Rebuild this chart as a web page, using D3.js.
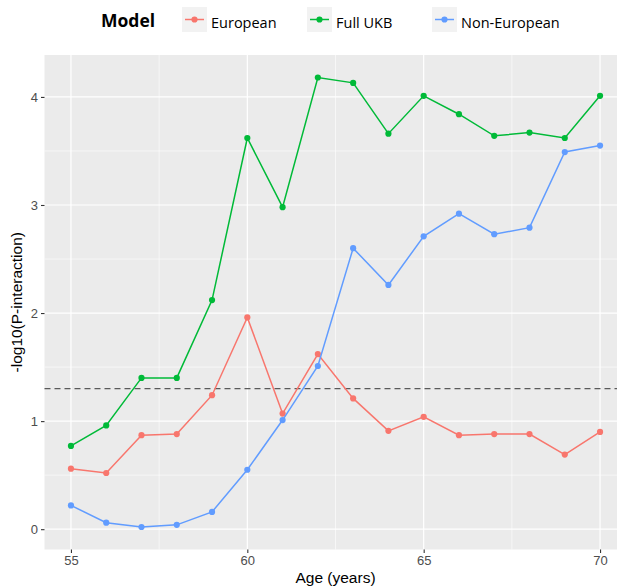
<!DOCTYPE html>
<html>
<head>
<meta charset="utf-8">
<script src="https://cdn.jsdelivr.net/npm/d3@7"></script>
<style>
  html, body { margin: 0; padding: 0; background: #ffffff; }
  svg { display: block; }
</style>
</head>
<body>
<script>
// ---- data ----
const ages = [55, 56, 57, 58, 59, 60, 61, 62, 63, 64, 65, 66, 67, 68, 69, 70];
const european =    [0.56, 0.52, 0.87, 0.88, 1.24, 1.96, 1.07, 1.62, 1.21, 0.91, 1.04, 0.87, 0.88, 0.88, 0.69, 0.90];
const fullUKB =     [0.77, 0.96, 1.40, 1.40, 2.12, 3.62, 2.98, 4.18, 4.13, 3.66, 4.01, 3.84, 3.64, 3.67, 3.62, 4.01];
const nonEuropean = [0.22, 0.06, 0.02, 0.04, 0.16, 0.55, 1.01, 1.51, 2.60, 2.26, 2.71, 2.92, 2.73, 2.79, 3.49, 3.55];
const seriesNames = ["European", "Full UKB", "Non-European"];
const seriesColors = ["#F8766D", "#00BA38", "#619CFF"];
const xTicks = [55, 60, 65, 70];
const xMinor = [57.5, 62.5, 67.5];
const yTicks = [0, 1, 2, 3, 4];
const yMinor = [0.5, 1.5, 2.5, 3.5];
const threshold = 1.30;
const legendTitle = "Model";
const xTitle = "Age (years)";
const yTitle = "-log10(P-interaction)";

const seriesValues = [european, fullUKB, nonEuropean];
const series = seriesNames.map((name, i) => ({
  name, color: seriesColors[i],
  points: ages.map((a, j) => ({ x: a, y: seriesValues[i][j] }))
}));

// ---- layout ----
const W = 617, H = 586;
const svg = d3.select("body").append("svg").attr("width", W).attr("height", H);

const panel = { left: 44.5, right: 626.5, top: 55, bottom: 549.5 };

const allY = seriesValues.flat();
const yMin = d3.min(allY), yMax = d3.max(allY);
const yPad = (yMax - yMin) * 0.05;
const xPad = (d3.max(ages) - d3.min(ages)) * 0.05;

const x = d3.scaleLinear().domain([d3.min(ages) - xPad, d3.max(ages) + xPad]).range([panel.left, panel.right]);
const y = d3.scaleLinear().domain([yMin - yPad, yMax + yPad]).range([panel.bottom, panel.top]);

// panel background
svg.append("rect")
  .attr("x", panel.left).attr("y", panel.top)
  .attr("width", panel.right - panel.left).attr("height", panel.bottom - panel.top)
  .attr("fill", "#EBEBEB");

const grid = svg.append("g");
// minor grid
grid.selectAll("line.ymin").data(yMinor).join("line")
  .attr("x1", panel.left).attr("x2", panel.right)
  .attr("y1", d => y(d)).attr("y2", d => y(d))
  .attr("stroke", "#ffffff").attr("stroke-width", 0.6);
grid.selectAll("line.xmin").data(xMinor).join("line")
  .attr("y1", panel.top).attr("y2", panel.bottom)
  .attr("x1", d => x(d)).attr("x2", d => x(d))
  .attr("stroke", "#ffffff").attr("stroke-width", 0.6);
// major grid
grid.selectAll("line.ymaj").data(yTicks).join("line")
  .attr("x1", panel.left).attr("x2", panel.right)
  .attr("y1", d => y(d)).attr("y2", d => y(d))
  .attr("stroke", "#ffffff").attr("stroke-width", 1.2);
grid.selectAll("line.xmaj").data(xTicks).join("line")
  .attr("y1", panel.top).attr("y2", panel.bottom)
  .attr("x1", d => x(d)).attr("x2", d => x(d))
  .attr("stroke", "#ffffff").attr("stroke-width", 1.2);

// threshold line
svg.append("line")
  .attr("x1", panel.left).attr("x2", panel.right)
  .attr("y1", y(threshold)).attr("y2", y(threshold))
  .attr("stroke", "#5a5a5a").attr("stroke-width", 1.2)
  .attr("stroke-dasharray", "6,4");

// series
const line = d3.line().x(d => x(d.x)).y(d => y(d.y));
const sg = svg.append("g").selectAll("g").data(series).join("g");
sg.append("path")
  .attr("d", d => line(d.points))
  .attr("fill", "none").attr("stroke", d => d.color).attr("stroke-width", 1.5);
sg.selectAll("circle").data(d => d.points.map(p => ({ ...p, color: d.color }))).join("circle")
  .attr("cx", d => x(d.x)).attr("cy", d => y(d.y)).attr("r", 3.1)
  .attr("fill", d => d.color);

// axes
const axisFont = "'Liberation Sans', Arial, sans-serif";
const xAxis = svg.append("g").attr("transform", `translate(0,${panel.bottom})`)
  .call(d3.axisBottom(x).tickValues(xTicks).tickSize(3.5).tickPadding(3).tickFormat(d3.format("d")));
const yAxis = svg.append("g").attr("transform", `translate(${panel.left},0)`)
  .call(d3.axisLeft(y).tickValues(yTicks).tickSize(3.5).tickPadding(3).tickFormat(d3.format("d")));
[xAxis, yAxis].forEach(a => {
  a.select(".domain").remove();
  a.selectAll(".tick line").attr("stroke", "#333333").attr("stroke-width", 1.1);
  a.selectAll(".tick text").attr("fill", "#4D4D4D").style("font-family", axisFont).style("font-size", "13px");
});

// axis titles
svg.append("text")
  .attr("x", (panel.left + panel.right) / 2).attr("y", 583)
  .attr("text-anchor", "middle")
  .style("font-family", axisFont).style("font-size", "15.5px").attr("fill", "#000")
  .text(xTitle);
svg.append("text")
  .attr("transform", `translate(22,${(panel.top + panel.bottom) / 2}) rotate(-90)`)
  .attr("text-anchor", "middle")
  .style("font-family", axisFont).style("font-size", "15.5px").attr("fill", "#000")
  .text(yTitle);

// legend
const legFont = "'Open Sans', 'Noto Sans', sans-serif";
const leg = svg.append("g");
leg.append("text").attr("x", 101).attr("y", 27)
  .style("font-family", legFont).style("font-weight", "bold").style("font-size", "17.5px")
  .attr("fill", "#000").text(legendTitle);
const keyX = [182, 307, 432];
series.forEach((s, i) => {
  const g = leg.append("g").attr("transform", `translate(${keyX[i]},7)`);
  g.append("rect").attr("width", 25).attr("height", 25).attr("fill", "#F2F2F2");
  g.append("line").attr("x1", 3).attr("x2", 22).attr("y1", 12.5).attr("y2", 12.5)
    .attr("stroke", s.color).attr("stroke-width", 1.5);
  g.append("circle").attr("cx", 12.5).attr("cy", 12.5).attr("r", 3.1).attr("fill", s.color);
  g.append("text").attr("x", 29).attr("y", 20.5)
    .style("font-family", legFont).style("font-size", "14.5px").attr("fill", "#000")
    .text(s.name);
});
</script>
</body>
</html>
